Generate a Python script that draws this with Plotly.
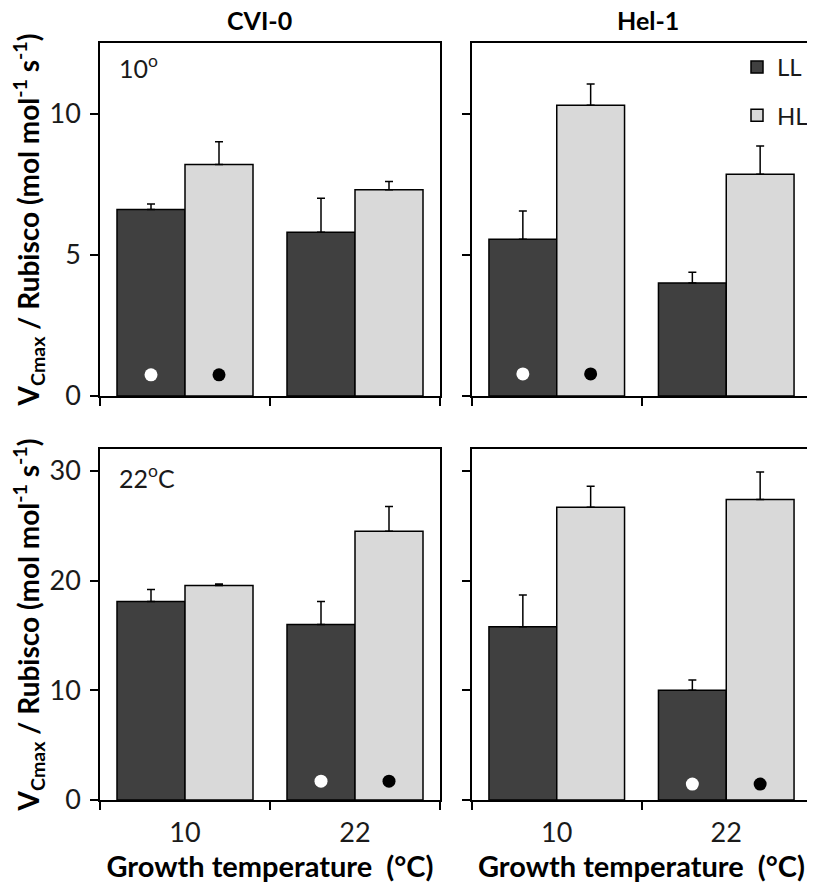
import plotly.graph_objects as go
from plotly.subplots import make_subplots

# growth temperatures (categories)
temps = ["10", "22"]
x_pos = [0, 1]

# measured at 10 C
cvi_10_LL = [6.6, 5.8]
cvi_10_LL_err = [0.2, 1.2]
cvi_10_HL = [8.2, 7.3]
cvi_10_HL_err = [0.8, 0.3]
hel_10_LL = [5.55, 4.0]
hel_10_LL_err = [1.0, 0.38]
hel_10_HL = [10.3, 7.85]
hel_10_HL_err = [0.75, 1.0]

# measured at 22 C
cvi_22_LL = [18.1, 16.0]
cvi_22_LL_err = [1.1, 2.1]
cvi_22_HL = [19.55, 24.5]
cvi_22_HL_err = [0.15, 2.25]
hel_22_LL = [15.8, 10.0]
hel_22_LL_err = [2.9, 0.95]
hel_22_HL = [26.7, 27.4]
hel_22_HL_err = [1.9, 2.5]

# dots marking growth temp == measuring temp (index into temps, height)
dot_10_idx = 0
dot_22_idx = 1
dot_y = {(1, 1): 0.75, (1, 2): 0.78, (2, 1): 1.72, (2, 2): 1.45}

LL_COL = "#404040"
HL_COL = "#d9d9d9"
FONT = "Lato"
bargap = 0.2
bar_w = (1 - bargap) / 2

fig = make_subplots(rows=2, cols=2, horizontal_spacing=0.045, vertical_spacing=0.07)

panels = [
    (1, 1, cvi_10_LL, cvi_10_LL_err, cvi_10_HL, cvi_10_HL_err, dot_10_idx),
    (1, 2, hel_10_LL, hel_10_LL_err, hel_10_HL, hel_10_HL_err, dot_10_idx),
    (2, 1, cvi_22_LL, cvi_22_LL_err, cvi_22_HL, cvi_22_HL_err, dot_22_idx),
    (2, 2, hel_22_LL, hel_22_LL_err, hel_22_HL, hel_22_HL_err, dot_22_idx),
]

for r, c, ll, ll_e, hl, hl_e, di in panels:
    show = (r == 1 and c == 2)
    fig.add_trace(go.Bar(x=x_pos, y=ll, name="LL", legendgroup="LL", showlegend=show,
                         marker=dict(color=LL_COL, line=dict(color="black", width=1.5)),
                         error_y=dict(type="data", array=ll_e, arrayminus=[0, 0], symmetric=False,
                                      color="black", thickness=1.5, width=4)), row=r, col=c)
    fig.add_trace(go.Bar(x=x_pos, y=hl, name="HL", legendgroup="HL", showlegend=show,
                         marker=dict(color=HL_COL, line=dict(color="black", width=1.5)),
                         error_y=dict(type="data", array=hl_e, arrayminus=[0, 0], symmetric=False,
                                      color="black", thickness=1.5, width=4)), row=r, col=c)
    yv = dot_y[(r, c)]
    fig.add_trace(go.Scatter(x=[x_pos[di] - bar_w / 2], y=[yv], mode="markers", showlegend=False,
                             marker=dict(color="white", size=13, line=dict(width=0))), row=r, col=c)
    fig.add_trace(go.Scatter(x=[x_pos[di] + bar_w / 2], y=[yv], mode="markers", showlegend=False,
                             marker=dict(color="black", size=13, line=dict(width=0))), row=r, col=c)

# the page body adds an 8px margin, so the figure is 8px smaller and shifted
OFF = 8
W, H = 815 - OFF, 885 - OFF
ml, mt = 100 - OFF, 43 - OFF
plot_r, plot_b = 811 - OFF, 800 - OFF
mr, mb = W - plot_r, H - plot_b
pw, ph = W - ml - mr, H - mt - mb
xdom = [[0, 340 / pw], [(472 - 100) / pw, 1]]
ydom = [[(800 - 396) / ph, 1], [0, (800 - 449) / ph]]

ytitle = "V<sub>Cmax</sub> / Rubisco (mol mol<sup>-1</sup> s<sup>-1</sup>)"
TICKF = dict(family=FONT, size=27, color="#1a1a1a")

for r in (1, 2):
    for c in (1, 2):
        fig.update_xaxes(domain=xdom[c - 1], range=[-0.5, 1.5], automargin=False,
                         tickvals=x_pos, ticktext=temps if r == 2 else ["", ""],
                         ticks="", showticklabels=(r == 2), ticklabelstandoff=8,
                         minor=dict(tickvals=[-0.5, 0.5, 1.5], ticks="outside", ticklen=8,
                                    tickwidth=1.5, tickcolor="black"),
                         showline=True, linecolor="black", linewidth=1.5, mirror=True,
                         showgrid=False, zeroline=False, tickfont=TICKF,
                         row=r, col=c)
        fig.update_yaxes(domain=ydom[r - 1], automargin=False,
                         range=[0, 12.5] if r == 1 else [0, 32],
                         tickvals=[0, 5, 10] if r == 1 else [0, 10, 20, 30],
                         ticks="outside", ticklen=8, tickwidth=1.5, tickcolor="black",
                         showticklabels=(c == 1), ticklabelstandoff=4,
                         showline=True, linecolor="black", linewidth=1.5, mirror=True,
                         showgrid=False, zeroline=False, tickfont=TICKF,
                         row=r, col=c)
    fig.update_yaxes(title=dict(text=ytitle, standoff=12,
                                font=dict(family=FONT, size=28, color="black", weight="bold")),
                     row=r, col=1)

xtitle = "Growth temperature\u00a0\u00a0(°C)"
for c in (1, 2):
    fig.update_xaxes(title=dict(text=xtitle, standoff=4,
                                font=dict(family=FONT, size=29, color="black", weight="bold")),
                     row=2, col=c)

TITF = dict(family=FONT, size=25, color="black", weight="bold")
fig.add_annotation(text="CVI-0", xref="x domain", yref="paper", x=0.47, y=1.0, yshift=23,
                   yanchor="middle", showarrow=False, font=TITF)
fig.add_annotation(text="Hel-1", xref="x2 domain", yref="paper", x=0.52, y=1.0, yshift=23,
                   yanchor="middle", showarrow=False, font=TITF)
fig.add_annotation(text="10<sup>o</sup>", xref="x domain", yref="y domain", x=0.05, y=0.985,
                   xanchor="left", yanchor="top", showarrow=False,
                   font=dict(family=FONT, size=25, color="#1a1a1a"))
fig.add_annotation(text="22<sup>o</sup>C", xref="x3 domain", yref="y3 domain", x=0.05, y=0.975,
                   xanchor="left", yanchor="top", showarrow=False,
                   font=dict(family=FONT, size=25, color="#1a1a1a"))

fig.update_layout(
    width=W, height=H,
    margin=dict(l=ml, r=mr, t=mt, b=mb, autoexpand=False),
    barmode="group", bargap=bargap,
    plot_bgcolor="white", paper_bgcolor="white",
    font=dict(family=FONT, color="#1a1a1a"),
    showlegend=True,
    legend=dict(x=(737 - 100) / pw, y=(800 - 45) / ph, xanchor="left", yanchor="top",
                traceorder="grouped", tracegroupgap=14, bgcolor="rgba(0,0,0,0)",
                font=dict(family=FONT, size=24, color="#1a1a1a"), itemwidth=30),
)

fig.write_html("out.html")
